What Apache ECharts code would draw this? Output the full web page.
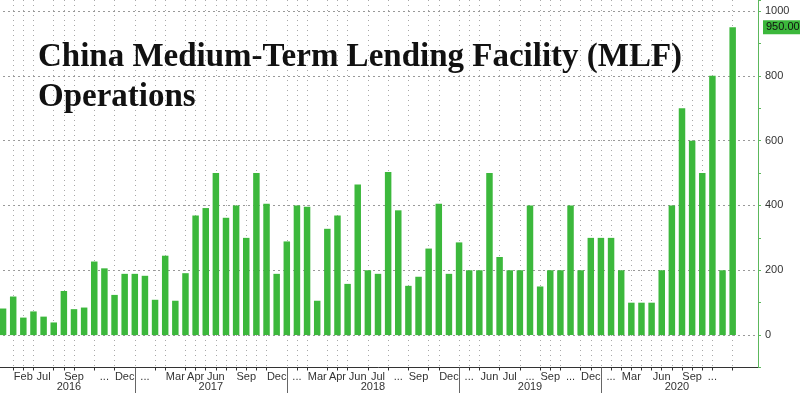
<!DOCTYPE html>
<html><head><meta charset="utf-8">
<script src="https://cdn.jsdelivr.net/npm/echarts@6/dist/echarts.min.js"></script>
<style>html,body{margin:0;padding:0;background:#fff}#c{width:800px;height:393px}</style>
</head><body><div id="c"></div>
<script>
// MLF operation amounts (bn yuan), one per operation, left to right
const opValues = [82,119,54,73,57,39,136,80,85,227,206,124,189,189,183,109,245,106,191,369,392,500,362,400,300,500,405,189,289,400,396,106,328,369,158,465,200,189,503,385,152,180,267,405,189,286,200,200,500,241,200,200,400,150,200,200,400,200,300,300,300,200,100,100,100,200,400,700,600,500,800,200,950];
const slotCount = 75; // 73 operations + 2 empty slots on the right
const categories = Array.from({length: slotCount}, (_, i) => 'op' + (i + 1));
// month tick labels: bar number (1-based) -> text
const monthLabelBars = [3,5,8,11,13,15,18,20,22,25,28,30,32,34,36,38,40,42,45,47,49,51,53,55,57,59,61,63,66,69,71];
const monthLabelTexts = ['Feb','Jul','Sep','...','Dec','...','Mar','Apr','Jun','Sep','Dec','...','Mar','Apr','Jun','Jul','...','Sep','Dec','...','Jun','Jul','...','Sep','...','Dec','...','Mar','Jun','Sep','...'];
// bars that start a new month (vertical dotted gridlines + ticks)
const gridBars = [2,3,4,6,7,8,10,12,14,16,17,19,20,21,22,23,24,25,26,27,29,30,31,33,34,35,37,39,41,43,44,46,47,48,50,52,54,55,56,58,59,60,61,62,63,64,65,66,67,68,69,70,71,73];
// year labels and separators
const yearLabels = ['2016','2017','2018','2019','2020'];
const yearLabelPos = [6.5, 20.5, 36.5, 52, 66.5];
const yearStartBars = [14, 29, 46, 60];
const yTickLabels = [0, 200, 400, 600, 800, 1000];
const lastValue = opValues[opValues.length - 1];

const GREEN = '#3cb83c';
const labelMap = {};
monthLabelBars.forEach((b, k) => { labelMap[b - 1] = monthLabelTexts[k]; });

const chart = echarts.init(document.getElementById('c'), null, {renderer: 'canvas'});
chart.setOption({
  animation: false,
  title: {
    text: 'China Medium-Term Lending Facility (MLF)\nOperations',
    left: 33, top: 32,
    textStyle: {fontFamily: 'Liberation Serif', fontWeight: 'bold', fontSize: 33, lineHeight: 40, color: '#111'}
  },
  grid: {left: -2, right: 42, top: 0, bottom: 25.5, containLabel: false, outerBoundsMode: 'none'},
  xAxis: [
    {
      type: 'category', data: categories, boundaryGap: true, position: 'bottom',
      axisLine: {show: true, onZero: false, lineStyle: {color: '#333', width: 1}},
      axisTick: {show: false},
      axisLabel: {interval: 0, formatter: (v, i) => labelMap[i] || '', color: '#333', fontSize: 11, margin: 4, fontFamily: 'Liberation Sans'},
      splitLine: {show: false}
    },
    {
      type: 'value', min: -0.5, max: slotCount - 0.5, position: 'bottom',
      axisLine: {show: false, onZero: false},
      axisTick: {show: true, customValues: gridBars.map(b => b - 1), length: 3, lineStyle: {color: '#333'}},
      axisLabel: {show: false},
      splitLine: {show: true, lineStyle: {color: '#a8a8a8', type: [1, 4], width: 1}}
    },
    {
      type: 'value', min: -0.5, max: slotCount - 0.5, position: 'bottom',
      axisLine: {show: false, onZero: false},
      axisTick: {show: true, customValues: yearStartBars.map(b => b - 1), length: 26, lineStyle: {color: '#666'}},
      axisLabel: {show: true, customValues: yearLabelPos, formatter: v => yearLabels[yearLabelPos.indexOf(v)] || '', color: '#333', fontSize: 11, margin: 14, fontFamily: 'Liberation Sans'},
      splitLine: {show: false}
    }
  ],
  yAxis: [
    {
      type: 'value', position: 'right', min: -100, max: 1034, interval: 100,
      axisLine: {show: true, onZero: false, lineStyle: {color: '#5cb85c', width: 1}},
      axisTick: {show: true, length: 3, lineStyle: {color: '#5cb85c'}},
      axisLabel: {formatter: v => (yTickLabels.indexOf(v) >= 0 ? String(v) : ''), color: '#333', fontSize: 11, margin: 7, fontFamily: 'Liberation Sans'},
      splitLine: {show: true, lineStyle: {color: ['rgba(0,0,0,0)', '#999'], type: [2, 3], width: 1}}
    },
    {
      type: 'value', position: 'right', min: -100, max: 1034, offset: 0,
      axisLine: {show: false, onZero: false},
      axisTick: {show: false},
      axisLabel: {show: true, customValues: [lastValue], formatter: v => Number(v).toFixed(2), backgroundColor: GREEN, color: '#111', padding: [2, 2, 1, 3], fontSize: 11, margin: 5, fontFamily: 'Liberation Sans'},
      splitLine: {show: false}
    }
  ],
  series: [{
    type: 'bar', xAxisIndex: 0, yAxisIndex: 0, data: opValues, barWidth: '64%',
    itemStyle: {color: GREEN}
  }]
});
</script></body></html>
